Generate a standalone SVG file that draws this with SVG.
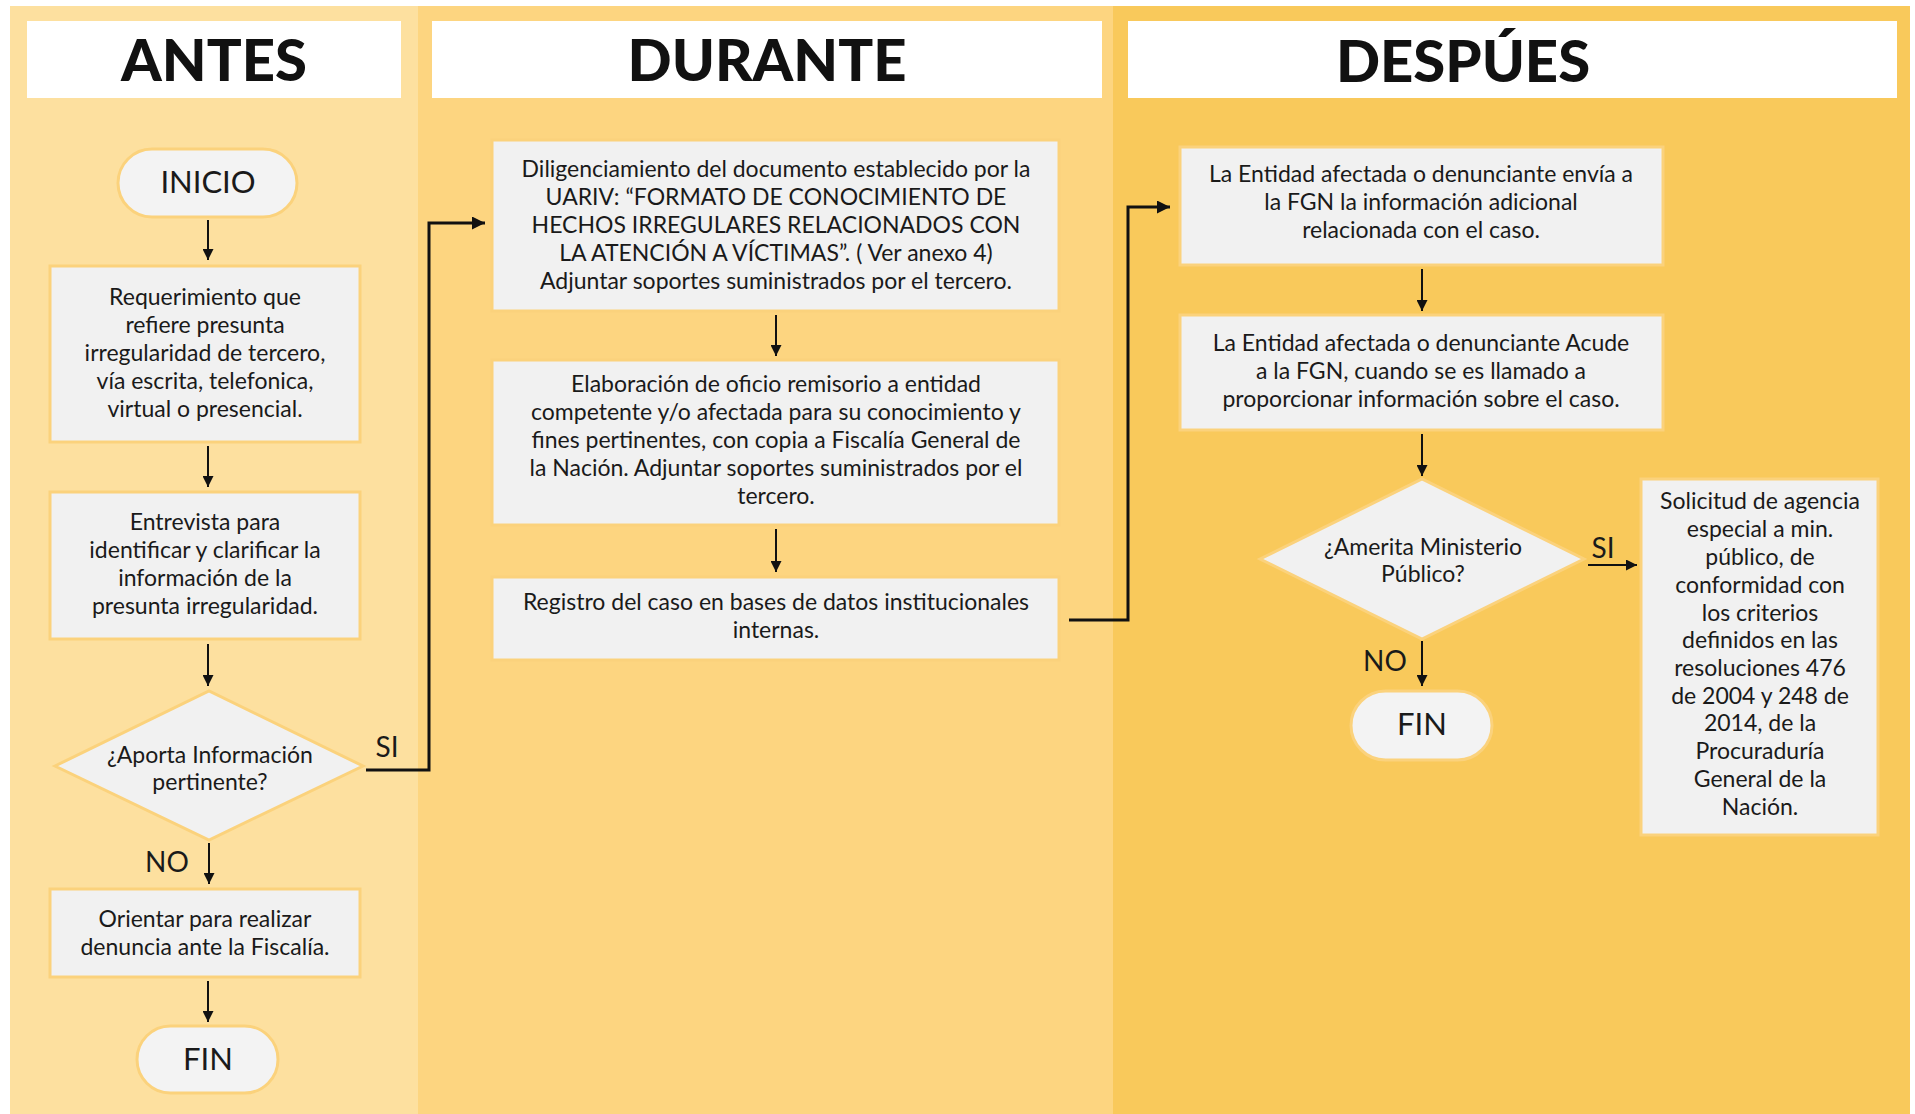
<svg xmlns="http://www.w3.org/2000/svg" width="1915" height="1114" viewBox="0 0 1915 1114">
<style>
.hdr{fill:#ffffff}
.ht{font-family:Lato,"Open Sans","Liberation Sans",sans-serif;font-weight:900;font-size:58px;fill:#111;text-anchor:middle}
.box{fill:#f1f1f1;stroke:#fbd27c;stroke-width:3}
.term{fill:#f3f3f3;stroke:#fbd27c;stroke-width:3}
.t{font-family:Lato,"Open Sans","Liberation Sans",sans-serif;font-size:23px;fill:#1a1a1a;text-anchor:middle}
.tt{font-family:Lato,"Open Sans","Liberation Sans",sans-serif;font-size:31px;fill:#1a1a1a;text-anchor:middle}
.lbl{font-family:Lato,"Open Sans","Liberation Sans",sans-serif;font-size:28px;fill:#1a1a1a;text-anchor:middle}
.c{fill:none;stroke:#111;stroke-width:2}
.cb{fill:none;stroke:#111;stroke-width:3}
</style>
<defs>
<marker id="ah" viewBox="0 0 10 10" refX="10" refY="5" markerWidth="11" markerHeight="11" markerUnits="userSpaceOnUse" orient="auto">
<path d="M0,0 L10,5 L0,10 Z" fill="#111"/>
</marker>
<marker id="ahb" viewBox="0 0 10 10" refX="10" refY="5" markerWidth="13" markerHeight="13" markerUnits="userSpaceOnUse" orient="auto">
<path d="M0,0 L10,5 L0,10 Z" fill="#111"/>
</marker>
</defs>
<rect width="1915" height="1114" fill="#ffffff"/>
<g id="columns">
<rect x="10" y="6" width="408" height="1108" fill="#fde09f"/>
<rect x="418" y="6" width="695" height="1108" fill="#fdd580"/>
<rect x="1113" y="6" width="797" height="1108" fill="#f9c95b"/>
</g>
<g id="headers">
<rect class="hdr" x="27" y="21" width="374" height="77"/>
<text class="ht" x="214" y="81">ANTES</text>
<rect class="hdr" x="432" y="21" width="670" height="77"/>
<text class="ht" x="767" y="81">DURANTE</text>
<rect class="hdr" x="1128" y="21" width="769" height="77"/>
<text class="ht" x="1463" y="82">DESPÚES</text>
</g>
<g id="connectors">
<line class="c" x1="208" y1="220" x2="208" y2="260" marker-end="url(#ah)"/>
<line class="c" x1="208" y1="446" x2="208" y2="487" marker-end="url(#ah)"/>
<line class="c" x1="208" y1="644" x2="208" y2="686" marker-end="url(#ah)"/>
<polyline class="cb" points="366,770 429,770 429,223 485,223" marker-end="url(#ahb)"/>
<line class="c" x1="209" y1="843" x2="209" y2="884" marker-end="url(#ah)"/>
<line class="c" x1="208" y1="981" x2="208" y2="1022" marker-end="url(#ah)"/>
<line class="c" x1="776" y1="315" x2="776" y2="356" marker-end="url(#ah)"/>
<line class="c" x1="776" y1="529" x2="776" y2="572" marker-end="url(#ah)"/>
<polyline class="cb" points="1069,620 1128,620 1128,207 1170,207" marker-end="url(#ahb)"/>
<line class="c" x1="1422" y1="269" x2="1422" y2="311" marker-end="url(#ah)"/>
<line class="c" x1="1422" y1="434" x2="1422" y2="476" marker-end="url(#ah)"/>
<line class="c" x1="1588" y1="565" x2="1637" y2="565" marker-end="url(#ah)"/>
<line class="c" x1="1422" y1="641" x2="1422" y2="686" marker-end="url(#ah)"/>
</g>
<g id="inicio">
<rect class="term" x="118" y="149" width="179" height="68" rx="34"/>
<text class="tt" x="208" y="193">INICIO</text>
</g>
<g id="requerimiento">
<rect class="box" x="50" y="266" width="310" height="176"/>
<text class="t" x="205" y="305">Requerimiento que</text>
<text class="t" x="205" y="333">refiere presunta</text>
<text class="t" x="205" y="361">irregularidad de tercero,</text>
<text class="t" x="205" y="389">vía escrita, telefonica,</text>
<text class="t" x="205" y="417">virtual o presencial.</text>
</g>
<g id="entrevista">
<rect class="box" x="50" y="492" width="310" height="147"/>
<text class="t" x="205" y="530">Entrevista para</text>
<text class="t" x="205" y="558">identificar y clarificar la</text>
<text class="t" x="205" y="586">información de la</text>
<text class="t" x="205" y="614">presunta irregularidad.</text>
</g>
<g id="aporta">
<polygon class="box" points="55,766 209,691 363,766 209,840"/>
<text class="t" x="210" y="763">¿Aporta Información</text>
<text class="t" x="210" y="790">pertinente?</text>
</g>
<g id="labels-antes">
<text class="lbl" x="387" y="757">SI</text>
<text class="lbl" x="167" y="872">NO</text>
</g>
<g id="orientar">
<rect class="box" x="50" y="889" width="310" height="88"/>
<text class="t" x="205" y="927">Orientar para realizar</text>
<text class="t" x="205" y="955">denuncia ante la Fiscalía.</text>
</g>
<g id="fin1">
<rect class="term" x="137" y="1026" width="141" height="67" rx="33.5"/>
<text class="tt" x="208" y="1070">FIN</text>
</g>
<g id="diligenciamiento">
<rect class="box" x="492" y="140" width="567" height="171"/>
<text class="t" x="776" y="177">Diligenciamiento del documento establecido por la</text>
<text class="t" x="776" y="205">UARIV: “FORMATO DE CONOCIMIENTO DE</text>
<text class="t" x="776" y="233">HECHOS IRREGULARES RELACIONADOS CON</text>
<text class="t" x="776" y="261">LA ATENCIÓN A VÍCTIMAS”. ( Ver anexo 4)</text>
<text class="t" x="776" y="289">Adjuntar soportes suministrados por el tercero.</text>
</g>
<g id="elaboracion">
<rect class="box" x="492" y="360" width="567" height="165"/>
<text class="t" x="776" y="392">Elaboración de oficio remisorio a entidad</text>
<text class="t" x="776" y="420">competente y/o afectada para su conocimiento y</text>
<text class="t" x="776" y="448">fines pertinentes, con copia a Fiscalía General de</text>
<text class="t" x="776" y="476">la Nación. Adjuntar soportes suministrados por el</text>
<text class="t" x="776" y="504">tercero.</text>
</g>
<g id="registro">
<rect class="box" x="492" y="577" width="567" height="83"/>
<text class="t" x="776" y="610">Registro del caso en bases de datos institucionales</text>
<text class="t" x="776" y="638">internas.</text>
</g>
<g id="envia">
<rect class="box" x="1180" y="147" width="483" height="118"/>
<text class="t" x="1421" y="182">La Entidad afectada o denunciante envía a</text>
<text class="t" x="1421" y="210">la FGN la información adicional</text>
<text class="t" x="1421" y="238">relacionada con el caso.</text>
</g>
<g id="acude">
<rect class="box" x="1180" y="315" width="483" height="115"/>
<text class="t" x="1421" y="351">La Entidad afectada o denunciante Acude</text>
<text class="t" x="1421" y="379">a la FGN, cuando se es llamado a</text>
<text class="t" x="1421" y="407">proporcionar información sobre el caso.</text>
</g>
<g id="amerita">
<polygon class="box" points="1260,559 1422,479 1584,559 1422,639"/>
<text class="t" x="1423" y="555">¿Amerita Ministerio</text>
<text class="t" x="1423" y="582">Público?</text>
</g>
<g id="labels-despues">
<text class="lbl" x="1603" y="558">SI</text>
<text class="lbl" x="1385" y="671">NO</text>
</g>
<g id="fin2">
<rect class="term" x="1351" y="691" width="141" height="69" rx="34.5"/>
<text class="tt" x="1422" y="735">FIN</text>
</g>
<g id="solicitud">
<rect class="box" x="1641" y="479" width="237" height="356"/>
<text class="t" x="1760" y="509">Solicitud de agencia</text>
<text class="t" x="1760" y="537">especial a min.</text>
<text class="t" x="1760" y="565">público, de</text>
<text class="t" x="1760" y="593">conformidad con</text>
<text class="t" x="1760" y="621">los criterios</text>
<text class="t" x="1760" y="648">definidos en las</text>
<text class="t" x="1760" y="676">resoluciones 476</text>
<text class="t" x="1760" y="704">de 2004 y 248 de</text>
<text class="t" x="1760" y="731">2014, de la</text>
<text class="t" x="1760" y="759">Procuraduría</text>
<text class="t" x="1760" y="787">General de la</text>
<text class="t" x="1760" y="815">Nación.</text>
</g>
</svg>
